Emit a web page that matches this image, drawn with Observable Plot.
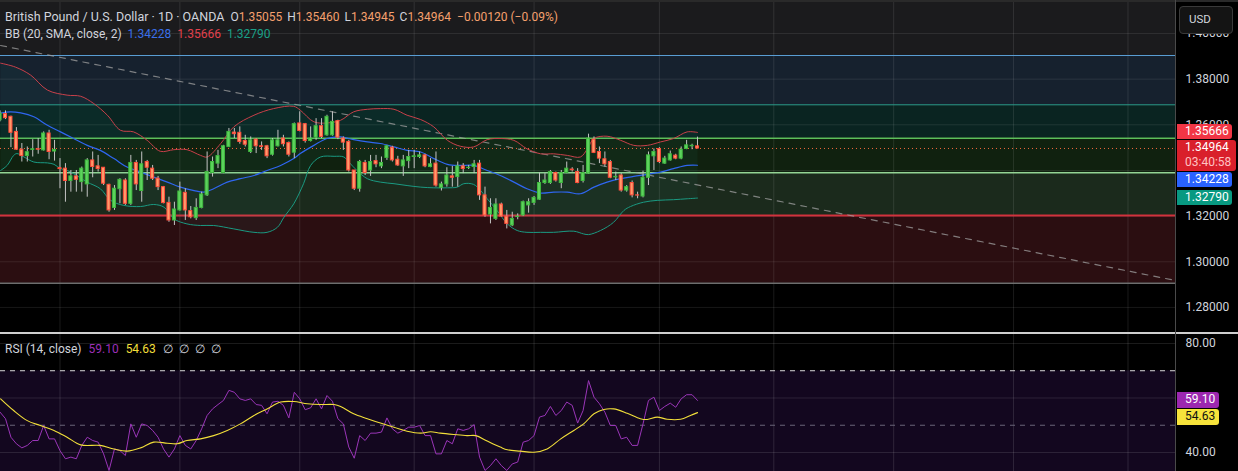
<!DOCTYPE html>
<html><head><meta charset="utf-8">
<script src="https://cdn.jsdelivr.net/npm/d3@7"></script>
<script src="https://cdn.jsdelivr.net/npm/@observablehq/plot@0.6"></script>
<style>
html,body{margin:0;padding:0;background:#000;}
#wrap{position:relative;width:1238px;height:471px;overflow:hidden;background:#000;font-family:Roboto,"Noto Sans",sans-serif;}
#wrap svg{position:absolute;left:0;}
.leg{position:absolute;left:5px;font-size:12px;line-height:16px;white-space:nowrap;}
.box{position:absolute;left:1177px;font-size:12px;line-height:15px;padding:0 0 0 8px;box-sizing:border-box;white-space:nowrap;border-radius:0 3px 3px 0;}
</style></head><body><div id="wrap"></div>
<script>
// ---------------- DATA ----------------
const firstBar = -1; // index of the partially visible left-most daily bar
const opens = [1.3620,1.3647,1.3635,1.3569,1.3491,1.3463,1.3490,1.3493,1.3488,1.3562,1.3483,1.3410,1.3408,1.3354,1.3374,1.3349,1.3339,1.3444,1.3418,1.3412,1.3337,1.3236,1.3318,1.3356,1.3254,1.3433,1.3310,1.3437,1.3408,1.3364,1.3327,1.3258,1.3181,1.3225,1.3302,1.3222,1.3191,1.3236,1.3291,1.3389,1.3430,1.3389,1.3503,1.3566,1.3565,1.3529,1.3481,1.3535,1.3506,1.3506,1.3469,1.3506,1.3540,1.3520,1.3478,1.3606,1.3603,1.3529,1.3544,1.3594,1.3554,1.3554,1.3616,1.3540,1.3525,1.3400,1.3320,1.3433,1.3400,1.3441,1.3418,1.3455,1.3500,1.3447,1.3418,1.3441,1.3459,1.3459,1.3466,1.3415,1.3430,1.3324,1.3339,1.3374,1.3371,1.3418,1.3411,1.3415,1.3430,1.3291,1.3207,1.3188,1.3251,1.3198,1.3159,1.3196,1.3203,1.3247,1.3258,1.3272,1.3345,1.3345,1.3389,1.3345,1.3389,1.3404,1.3393,1.3354,1.3386,1.3535,1.3481,1.3449,1.3437,1.3370,1.3378,1.3312,1.3345,1.3291,1.3286,1.3368,1.3462,1.3494,1.3430,1.3444,1.3465,1.3452,1.3494,1.3506,1.35055];
const highs = [1.3661,1.3661,1.3638,1.3588,1.3518,1.3503,1.3535,1.3540,1.3569,1.3576,1.3532,1.3452,1.3430,1.3400,1.3400,1.3415,1.3452,1.3481,1.3466,1.3412,1.3340,1.3334,1.3364,1.3364,1.3466,1.3444,1.3481,1.3444,1.3422,1.3374,1.3330,1.3283,1.3261,1.3349,1.3320,1.3242,1.3276,1.3305,1.3481,1.3459,1.3488,1.3510,1.3584,1.3584,1.3591,1.3554,1.3547,1.3540,1.3525,1.3510,1.3540,1.3576,1.3554,1.3525,1.3608,1.3657,1.3606,1.3591,1.3627,1.3627,1.3642,1.3657,1.3620,1.3547,1.3532,1.3400,1.3444,1.3444,1.3466,1.3466,1.3459,1.3510,1.3506,1.3462,1.3466,1.3488,1.3488,1.3481,1.3471,1.3452,1.3481,1.3349,1.3412,1.3418,1.3437,1.3430,1.3422,1.3444,1.3444,1.3327,1.3276,1.3276,1.3257,1.3225,1.3217,1.3210,1.3266,1.3276,1.3286,1.3389,1.3386,1.3400,1.3393,1.3400,1.3437,1.3412,1.3408,1.3422,1.3559,1.3547,1.3503,1.3481,1.3444,1.3393,1.3386,1.3334,1.3354,1.3305,1.3397,1.3481,1.3494,1.3500,1.3462,1.3485,1.3471,1.3503,1.3532,1.3515,1.35460];
const lows = [1.3613,1.3623,1.3500,1.3488,1.3437,1.3437,1.3459,1.3471,1.3485,1.3447,1.3441,1.3320,1.3261,1.3305,1.3305,1.3305,1.3283,1.3368,1.3393,1.3334,1.3217,1.3225,1.3254,1.3247,1.3247,1.3312,1.3261,1.3356,1.3356,1.3312,1.3254,1.3173,1.3159,1.3222,1.3181,1.3188,1.3181,1.3232,1.3286,1.3371,1.3408,1.3386,1.3500,1.3540,1.3515,1.3503,1.3474,1.3474,1.3488,1.3452,1.3463,1.3503,1.3503,1.3459,1.3452,1.3569,1.3520,1.3525,1.3532,1.3540,1.3550,1.3550,1.3535,1.3488,1.3393,1.3312,1.3305,1.3378,1.3374,1.3412,1.3408,1.3444,1.3437,1.3418,1.3374,1.3408,1.3408,1.3452,1.3412,1.3412,1.3327,1.3310,1.3327,1.3327,1.3327,1.3386,1.3404,1.3386,1.3269,1.3195,1.3166,1.3181,1.3195,1.3144,1.3154,1.3184,1.3198,1.3213,1.3247,1.3269,1.3339,1.3339,1.3349,1.3320,1.3386,1.3393,1.3342,1.3345,1.3383,1.3474,1.3430,1.3415,1.3364,1.3356,1.3305,1.3305,1.3280,1.3276,1.3280,1.3334,1.3400,1.3430,1.3427,1.3441,1.3447,1.3447,1.3491,1.3491,1.34945];
const closes = [1.3649,1.3629,1.3565,1.3491,1.3463,1.3480,1.3493,1.3491,1.3562,1.3481,1.3490,1.3406,1.3354,1.3374,1.3359,1.3408,1.3444,1.3415,1.3406,1.3342,1.3225,1.3320,1.3359,1.3254,1.3433,1.3339,1.3427,1.3412,1.3364,1.3327,1.3257,1.3181,1.3229,1.3308,1.3225,1.3195,1.3236,1.3295,1.3393,1.3437,1.3463,1.3506,1.3569,1.3559,1.3525,1.3513,1.3532,1.3506,1.3503,1.3462,1.3532,1.3532,1.3515,1.3469,1.3603,1.3573,1.3529,1.3540,1.3594,1.3547,1.3635,1.3613,1.3544,1.3522,1.3400,1.3320,1.3437,1.3389,1.3437,1.3427,1.3433,1.3506,1.3444,1.3422,1.3444,1.3459,1.3462,1.3466,1.3418,1.3427,1.3334,1.3339,1.3378,1.3368,1.3418,1.3406,1.3412,1.3427,1.3291,1.3203,1.3236,1.3251,1.3198,1.3166,1.3188,1.3198,1.3261,1.3261,1.3280,1.3345,1.3356,1.3393,1.3356,1.3389,1.3408,1.3401,1.3345,1.3389,1.3540,1.3477,1.3452,1.3427,1.3368,1.3372,1.3312,1.3327,1.3291,1.3290,1.3368,1.3466,1.3481,1.3437,1.3452,1.3471,1.3452,1.3491,1.3510,1.3508,1.34964];

// Bollinger Bands (20, SMA, close, 2): [bar index, price]
const bbUpper = [[-0.9,1.3870],[1.8,1.3853],[4.6,1.3818],[7.7,1.3752],[11.3,1.3730],[13.8,1.3725],[16.2,1.3693],[18.7,1.3642],[21.1,1.3576],[23.5,1.3569],[26.0,1.3532],[28.4,1.3484],[30.9,1.3491],[33.3,1.3491],[35.8,1.3466],[37.0,1.3459],[39.5,1.3518],[41.9,1.3591],[45.6,1.3642],[49.2,1.3671],[52.9,1.3681],[54.1,1.3664],[56.6,1.3613],[59.0,1.3608],[61.5,1.3620],[63.9,1.3657],[66.4,1.3668],[68.8,1.3671],[71.3,1.3668],[73.7,1.3642],[76.2,1.3623],[78.6,1.3591],[81.1,1.3532],[83.5,1.3506],[85.9,1.3503],[88.4,1.3535],[90.8,1.3540],[93.3,1.3532],[95.7,1.3495],[98.2,1.3473],[100.6,1.3473],[103.1,1.3466],[105.5,1.3459],[106.8,1.3495],[108.0,1.3540],[110.4,1.3550],[112.9,1.3532],[115.3,1.3510],[117.8,1.3510],[120.2,1.3525],[122.6,1.3540],[125.1,1.3569],[127,1.35666]];
const bbBasis = [[-0.9,1.3651],[0.9,1.3657],[2.8,1.3652],[5.2,1.3635],[7.7,1.3598],[10.1,1.3569],[12.5,1.3540],[15.0,1.3510],[17.4,1.3488],[19.9,1.3452],[22.3,1.3415],[24.8,1.3393],[27.2,1.3371],[29.7,1.3349],[32.1,1.3327],[34.6,1.3312],[36.4,1.3305],[38.2,1.3320],[40.7,1.3349],[43.1,1.3364],[45.6,1.3378],[48.0,1.3400],[50.5,1.3422],[52.9,1.3452],[54.1,1.3474],[56.6,1.3510],[59.0,1.3540],[61.5,1.3547],[63.9,1.3535],[66.4,1.3525],[68.8,1.3518],[71.3,1.3503],[73.7,1.3488],[76.2,1.3481],[78.6,1.3452],[81.1,1.3427],[83.5,1.3422],[85.9,1.3422],[88.4,1.3400],[90.8,1.3378],[93.3,1.3349],[95.7,1.3320],[98.2,1.3301],[100.6,1.3305],[103.1,1.3305],[105.5,1.3298],[108.0,1.3327],[110.4,1.3349],[112.9,1.3364],[115.3,1.3374],[117.8,1.3383],[120.2,1.3393],[122.6,1.3408],[125.1,1.3422],[127,1.34228]];
const bbLower = [[-0.9,1.3400],[0.3,1.3422],[1.5,1.3466],[2.1,1.3474],[3.4,1.3459],[5.2,1.3437],[7.7,1.3433],[8.9,1.3427],[10.1,1.3408],[11.3,1.3400],[12.5,1.3386],[15.0,1.3349],[17.4,1.3320],[19.3,1.3269],[21.7,1.3247],[24.8,1.3242],[27.2,1.3251],[29.1,1.3239],[30.9,1.3188],[33.3,1.3166],[35.8,1.3159],[38.2,1.3159],[41.9,1.3144],[45.6,1.3129],[48.0,1.3129],[49.9,1.3151],[51.1,1.3195],[52.9,1.3254],[54.7,1.3342],[56.0,1.3422],[57.8,1.3459],[60.3,1.3462],[62.1,1.3459],[63.0,1.3437],[64.5,1.3400],[66.4,1.3364],[68.8,1.3349],[71.3,1.3342],[73.7,1.3334],[76.2,1.3327],[78.6,1.3324],[81.1,1.3324],[82.9,1.3327],[84.1,1.3342],[85.9,1.3339],[87.2,1.3312],[88.4,1.3276],[90.2,1.3225],[92.1,1.3166],[93.9,1.3137],[95.7,1.3129],[98.2,1.3129],[100.6,1.3129],[104.3,1.3134],[106.1,1.3122],[107.0,1.3119],[109.2,1.3137],[111.6,1.3173],[113.5,1.3225],[114.7,1.3242],[117.1,1.3261],[119.6,1.3269],[122.6,1.3272],[125.1,1.3276],[127,1.32790]];

// RSI (14, close), one value per bar, and its moving average
const rsiValues = [54.8,52.4,45.6,43.2,41.7,42.6,44.4,44.4,49.9,45.0,45.0,40.7,37.7,38.3,37.7,42.6,45.6,44.4,43.8,39.5,33.4,41.3,40.7,38.9,50.5,45.6,50.5,49.9,48.1,45.6,41.3,38.3,41.3,46.2,42.6,41.3,44.4,48.7,53.6,56.0,57.6,59.1,62.8,62.1,59.7,59.1,59.7,57.6,57.3,54.2,58.5,58.8,57.3,52.7,62.1,59.7,55.7,56.4,59.7,56.0,60.9,58.8,52.4,50.5,42.0,37.9,46.2,44.4,47.1,47.1,47.5,52.7,48.7,47.1,48.1,49.3,49.3,49.9,46.2,46.2,39.5,39.5,44.4,43.2,48.7,48.1,48.7,50.2,38.3,33.4,35.2,37.7,35.2,33.4,35.8,36.5,43.8,44.4,46.2,53.0,53.6,56.9,53.6,55.4,58.5,57.3,50.8,55.4,66.4,60.3,57.9,54.8,49.9,49.9,45.0,45.6,42.6,42.6,50.5,59.1,60.3,55.4,56.9,58.1,56.6,59.7,61.2,61.2,59.10];
const rsiMA = [[-0.9,59.7],[1.5,55.4],[4.0,51.7],[6.4,49.9],[8.9,48.1],[11.3,45.6],[13.8,42.8],[17.4,42.6],[19.9,41.3],[22.3,40.5],[24.8,41.7],[27.2,43.8],[29.7,43.4],[31.5,43.2],[33.3,44.4],[35.8,45.0],[38.2,46.2],[40.7,48.1],[43.1,50.5],[45.6,53.6],[48.0,56.0],[50.5,58.5],[52.9,58.7],[55.4,57.9],[57.8,57.6],[60.3,57.6],[61.5,56.9],[63.9,54.2],[66.4,52.4],[68.8,50.8],[71.3,49.3],[73.7,47.8],[76.2,47.1],[78.0,47.6],[79.8,47.1],[82.3,46.6],[84.7,46.2],[86.3,46.2],[88.4,44.2],[90.8,42.0],[92.1,41.0],[94.5,40.5],[97.0,40.1],[99.4,41.3],[101.9,45.0],[104.3,48.1],[106.1,50.5],[108.0,54.2],[109.8,55.8],[111.6,56.0],[114.1,54.4],[116.5,52.4],[117.8,52.1],[119.6,53.0],[121.4,52.2],[123.9,52.2],[125.7,53.6],[127,54.63]];

// drawn objects
const trendIdx = [-0.9, 214.7];
const trendPrice = [1.39474, 1.29181];
const zoneHigh = [1.4150, 1.39036, 1.36877, 1.35414, 1.33898, 1.32028];
const zoneLow  = [1.39036, 1.36877, 1.35414, 1.33898, 1.32028, 1.29063];
const zoneFill = ["#1b1b1d", "#16212e", "#0a2421", "#10210f", "#1b2a1c", "#2b0e11"];
const zoneLevels = [1.39036, 1.36877, 1.35414, 1.33898, 1.32028, 1.29063];
const zoneLevelColors = ["#5b9fd6", "#2f9d8e", "#5cbf5c", "#94d494", "#d2323d", "#6e6e6e"];
const zoneLevelWidths = [1, 1, 1.5, 1.5, 2, 1.5];

// axes (grid at every tick; labels where the reference shows them)
const priceTicks = [1.28, 1.30, 1.32, 1.34, 1.36, 1.38, 1.40];
const priceTickLabels = [1.28, 1.30, 1.32, 1.36, 1.38, 1.40];
const rsiTicks = [40, 60, 80];
const rsiTickLabels = [40, 80];
const monthStarts = [10, 32, 54, 75, 97, 120, 141, 163, 185, 206];

// legend texts
const title = "British Pound / U.S. Dollar · 1D · OANDA";
const changeText = "−0.00120 (−0.09%)";
const bbTitle = "BB (20, SMA, close, 2)";
const rsiTitle = "RSI (14, close)";
const countdown = "03:40:58";

// ---------------- DRAW ----------------
const FONT = "Roboto, 'Noto Sans', sans-serif";
const W = 1238, PH = 333, RTOP = 334, RH = 137, MR = 63;
const xDomain = [-0.918, 214.72];
const wrap = document.getElementById("wrap");

const bars = opens.map((o, k) => ({i: firstBar + k, o, h: highs[k], l: lows[k], c: closes[k]}));
const last = bars[bars.length - 1];
const pts = a => a.map(([i, p]) => ({i, p}));
const zones = zoneHigh.map((hi, k) => ({hi, lo: zoneLow[k], fill: zoneFill[k]}));
const levels = zoneLevels.map((p, k) => ({p, color: zoneLevelColors[k], w: zoneLevelWidths[k]}));
const bandPoly = pts(bbUpper).concat(pts(bbLower).reverse());
const trend = trendIdx.map((i, k) => ({i, p: trendPrice[k]}));
const UP_F = "#5dd35d", UP_S = "#3fb83f", DN_F = "#ff9b6b", DN_S = "#ff4b3a";

const price = Plot.plot({
  width: W, height: PH, marginLeft: 0, marginRight: MR, marginTop: 0, marginBottom: 0,
  x: {domain: xDomain, axis: null},
  y: {domain: [1.26859, 1.41445], axis: null},
  style: {background: "transparent", fontFamily: FONT, fontSize: "12px", color: "#d1d4dc"},
  marks: [
    Plot.rect(zones, {y1: "lo", y2: "hi", fill: "fill", clip: true}),
    Plot.ruleY(priceTicks, {stroke: "#ffffff", strokeOpacity: 0.09}),
    Plot.ruleX(monthStarts, {stroke: "#ffffff", strokeOpacity: 0.1}),
    Plot.ruleY(levels, {y: "p", stroke: "color", strokeWidth: "w"}),
    Plot.line(bandPoly, {x: "i", y: "p", fill: "#26a69a", fillOpacity: 0.06, stroke: "none"}),
    Plot.line(trend, {x: "i", y: "p", stroke: "#a0a0a0", strokeOpacity: 0.75, strokeDasharray: "6,6", strokeWidth: 1.2}),
    Plot.ruleY([last.c], {stroke: "#f26a3d", strokeDasharray: "1,3", strokeWidth: 1}),
    Plot.line(pts(bbUpper), {x: "i", y: "p", stroke: "#c8404a", strokeWidth: 1, curve: "catmull-rom"}),
    Plot.line(pts(bbBasis), {x: "i", y: "p", stroke: "#2f66f0", strokeWidth: 1.2, curve: "catmull-rom"}),
    Plot.line(pts(bbLower), {x: "i", y: "p", stroke: "#1a9a82", strokeWidth: 1, curve: "catmull-rom"}),
    Plot.ruleX(bars, {x: "i", y1: "l", y2: "h", stroke: "#c4c4c4", strokeWidth: 1}),
    Plot.rect(bars, {x1: d => d.i - 0.28, x2: d => d.i + 0.28,
      y1: d => Math.min(d.o, d.c), y2: d => Math.max(d.o, d.c),
      fill: d => d.c >= d.o ? UP_F : DN_F, stroke: d => d.c >= d.o ? UP_S : DN_S, strokeWidth: 1}),
    Plot.axisY({ticks: priceTickLabels, anchor: "right", tickFormat: d3.format(".5f"), tickSize: 0, tickPadding: 10, fontSize: 12, fill: "#d1d4dc", label: null})
  ]
});
price.style.top = "0px";
wrap.appendChild(price);

const rsiData = rsiValues.map((v, k) => ({i: firstBar + k, v}));
const rsi = Plot.plot({
  width: W, height: RH, marginLeft: 0, marginRight: MR, marginTop: 0, marginBottom: 0,
  x: {domain: xDomain, axis: null},
  y: {domain: [33.03, 83.30], axis: null},
  style: {background: "transparent", fontFamily: FONT, fontSize: "12px", color: "#d1d4dc"},
  marks: [
    Plot.rect([{a: 30, b: 70}], {y1: "a", y2: "b", fill: "#13071f", clip: true}),
    Plot.ruleY(rsiTicks, {stroke: "#ffffff", strokeOpacity: 0.11}),
    Plot.ruleX(monthStarts, {stroke: "#ffffff", strokeOpacity: 0.12}),
    Plot.ruleY([70], {stroke: "#d8d8d8", strokeDasharray: "5,5", strokeWidth: 1}),
    Plot.ruleY([50], {stroke: "#6a6478", strokeDasharray: "5,5", strokeWidth: 1}),
    Plot.line(rsiData, {x: "i", y: "v", stroke: "#9a35b8", strokeWidth: 1, clip: true}),
    Plot.line(pts(rsiMA), {x: "i", y: "p", stroke: "#f2df3a", strokeWidth: 1.1, curve: "catmull-rom"}),
    Plot.axisY({ticks: rsiTickLabels, anchor: "right", tickFormat: d3.format(".2f"), tickSize: 0, tickPadding: 10, fontSize: 12, fill: "#d1d4dc", label: null})
  ]
});
rsi.style.top = RTOP + "px";
wrap.appendChild(rsi);

// chrome: top strip, pane separator, axis border
function div(css) { const d = document.createElement("div"); d.style.cssText = "position:absolute;" + css; wrap.appendChild(d); return d; }
div("left:0;top:0;width:1238px;height:2px;background:#2a2a2a;");
div("left:0;top:332px;width:1238px;height:2px;background:#cfcfcf;");
div(`left:${W - MR}px;top:0;width:1px;height:471px;background:#4a4a4a;`);

// USD button
const usd = div("left:1179px;top:6px;width:54px;height:28px;box-sizing:border-box;border:1px solid #3a3a3a;border-radius:4px;background:#141414;color:#d1d4dc;font-size:11.5px;line-height:24px;padding-left:9px;");
usd.textContent = "USD";

// price scale labels
const ys = price.scale("y"), yr = rsi.scale("y");
function boxes(list, offset) {
  let prevBottom = -1e9;
  for (const b of list) {
    const c = offset + b.scale.apply(b.v);
    let top = Math.max(c - b.h0 / 2, prevBottom + 1);
    const d = div(`top:${top}px;width:${b.w}px;height:${b.h}px;background:${b.bg};color:${b.fg};`);
    d.className = "box";
    d.innerHTML = b.html;
    prevBottom = top + b.h;
  }
}
const f5 = d3.format(".5f"), f2 = d3.format(".2f");
boxes([
  {v: bbUpper[bbUpper.length - 1][1], scale: ys, h0: 15, h: 15, w: 55, bg: "#f23645", fg: "#fff", html: f5(bbUpper[bbUpper.length - 1][1])},
  {v: last.c, scale: ys, h0: 15, h: 31, w: 59, bg: "#d91f2b", fg: "#fff", html: f5(last.c) + `<br><span style="color:#ffc2c2">${countdown}</span>`},
  {v: bbBasis[bbBasis.length - 1][1], scale: ys, h0: 15, h: 15, w: 55, bg: "#2962ff", fg: "#fff", html: f5(bbBasis[bbBasis.length - 1][1])},
  {v: bbLower[bbLower.length - 1][1], scale: ys, h0: 15, h: 15, w: 55, bg: "#089981", fg: "#fff", html: f5(bbLower[bbLower.length - 1][1])}
], 0);
boxes([
  {v: rsiValues[rsiValues.length - 1], scale: yr, h0: 16, h: 16, w: 42, bg: "#9c27b0", fg: "#fff", html: f2(rsiValues[rsiValues.length - 1])},
  {v: rsiMA[rsiMA.length - 1][1], scale: yr, h0: 16, h: 16, w: 42, bg: "#f7e33b", fg: "#111", html: f2(rsiMA[rsiMA.length - 1][1])}
], RTOP);

// legends
function legend(top, parts) {
  const d = div(`top:${top}px;`);
  d.className = "leg";
  for (const [text, color, gap, size] of parts) {
    const s = document.createElement("span");
    s.textContent = text; s.style.color = color; s.style.marginLeft = gap + "px";
    if (size) s.style.fontSize = size + "px";
    d.appendChild(s);
  }
}
const G = "#d1d4dc", OR = "#f5a06e";
legend(9, [[title, G, 0, 12.5], ["O", G, 6], [f5(last.o), OR, 0], ["H", G, 5], [f5(last.h), OR, 0],
  ["L", G, 5], [f5(last.l), OR, 0], ["C", G, 5], [f5(last.c), OR, 0], [changeText, OR, 6]]);
legend(26, [[bbTitle, G, 0], [f5(bbBasis[bbBasis.length - 1][1]), "#3a70ea", 6],
  [f5(bbUpper[bbUpper.length - 1][1]), "#e0404c", 6], [f5(bbLower[bbLower.length - 1][1]), "#1aa088", 6]]);
legend(341, [[rsiTitle, G, 0], [f2(rsiValues[rsiValues.length - 1]), "#9c2fb8", 7],
  [f2(rsiMA[rsiMA.length - 1][1]), "#f2df3a", 7], ["∅", G, 7], ["∅", G, 6], ["∅", G, 6], ["∅", G, 6]]);
</script></body></html>
